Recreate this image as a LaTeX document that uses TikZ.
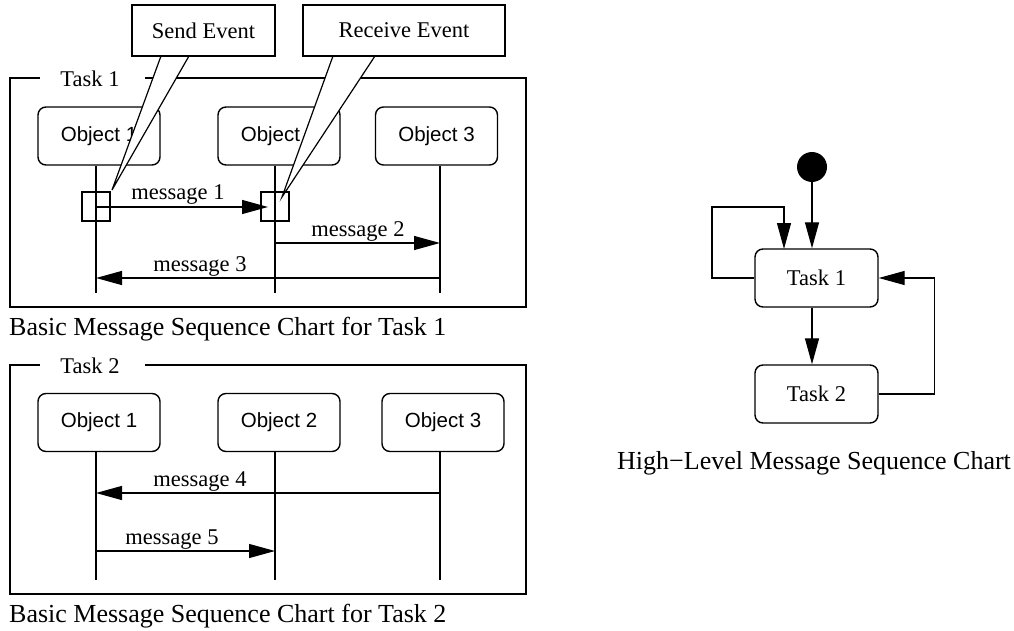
\documentclass[tikz,border=0pt]{standalone}
\usepackage{fontspec}
\setmainfont{Liberation Serif}
\newfontfamily\objfont{Liberation Sans}
\usetikzlibrary{arrows.meta}
\begin{document}
\begin{tikzpicture}[x=1pt,y=-1pt,
  thinline/.style={line width=1.2pt},
  frame/.style={line width=1.4pt},
  obj/.style={draw, line width=1.4pt, rounded corners=8pt, minimum width=122pt, minimum height=58pt, inner sep=0pt, font=\objfont\fontsize{20.5}{24}\selectfont},
  state/.style={draw, line width=1.4pt, rounded corners=8pt, minimum width=123pt, minimum height=58pt, inner sep=0pt, font=\fontsize{22.5}{27}\selectfont},
  msg/.style={line width=1.2pt, -{Triangle[length=26pt,width=14pt]}},
  lbl/.style={font=\fontsize{22.5}{27}\selectfont, anchor=base, inner sep=0pt},
  evt/.style={draw, line width=1.2pt, minimum width=28pt, minimum height=29pt, inner sep=0pt},
  callout/.style={draw, line width=1.4pt, fill=white, inner sep=0pt, font=\fontsize{22.5}{27}\selectfont},
  caption/.style={font=\fontsize{26}{30}\selectfont, inner sep=0pt, anchor=west},
  flabel/.style={font=\fontsize{22.5}{27}\selectfont, inner sep=0pt}
]
\useasboundingbox (0,0) rectangle (1014,631);

% ---------- Task 1 frame ----------
\coordinate (f1a) at (40,78);
\coordinate (f1b) at (145,78);
\draw[frame] (f1a) -- (10,78) -- (10,307) -- (526,307) -- (526,78) -- (f1b);
\node[flabel] (f1l) at (90,79) {Task 1};

\node[obj] (o11) at (99,136) {Object 1};
\node[obj] (o12) at (279,136) {Object 2};
\node[obj] (o13) at (436.5,136) {Object 3};

\coordinate (l11) at (96,293);
\coordinate (l12) at (275,293);
\coordinate (l13) at (440,293);
\draw[thinline] (l11 |- o11.south) -- (l11);
\draw[thinline] (l12 |- o12.south) -- (l12);
\draw[thinline] (l13 |- o13.south) -- (l13);

\node[evt] (se) at (96,206.5) {};
\node[evt] (re) at (275,206.5) {};

\coordinate (m1a) at (96,207);
\coordinate (m1b) at (268,207);
\coordinate (m2a) at (275,243);
\coordinate (m2b) at (440,243);
\coordinate (m3a) at (440,278);
\coordinate (m3b) at (96,278);
\draw[msg] (m1a) -- (m1b);
\draw[msg] (m2a) -- (m2b);
\draw[msg] (m3a) -- (m3b);
\node[lbl] (t1m1) at (178,200) {message 1};
\node[lbl] (t1m2) at (358,236) {message 2};
\node[lbl] (t1m3) at (200,271) {message 3};

% callouts
\coordinate (sw1) at (161,56);
\coordinate (sw2) at (112,190);
\coordinate (sw3) at (189,56);
\fill[white] (sw1) -- (sw2) -- (sw3) -- cycle;
\draw[thinline] (sw1) -- (sw2) -- (sw3);
\coordinate (rw1) at (333,56);
\coordinate (rw2) at (282,197);
\coordinate (rw3) at (375,56);
\fill[white] (rw1) -- (rw2) -- (rw3) -- cycle;
\draw[thinline] (rw1) -- (rw2) -- (rw3);
\node[callout, minimum width=143pt, minimum height=51pt] (sendev) at (203.5,30.5) {Send Event};
\node[callout, minimum width=202pt, minimum height=51pt] (recev) at (404,30.5) {Receive Event};

\node[caption] (cap1) at (9,329) {Basic Message Sequence Chart for Task 1};

% ---------- Task 2 frame ----------
\coordinate (f2a) at (40,365);
\coordinate (f2b) at (145,365);
\draw[frame] (f2a) -- (10,365) -- (10,594) -- (526,594) -- (526,365) -- (f2b);
\node[flabel] (f2l) at (90,366) {Task 2};

\node[obj] (o21) at (99,422.5) {Object 1};
\node[obj] (o22) at (279,422.5) {Object 2};
\node[obj] (o23) at (443,422.5) {Object 3};

\coordinate (l21) at (96,580);
\coordinate (l22) at (275,580);
\coordinate (l23) at (440,580);
\draw[thinline] (l21 |- o21.south) -- (l21);
\draw[thinline] (l22 |- o22.south) -- (l22);
\draw[thinline] (l23 |- o23.south) -- (l23);

\coordinate (m4a) at (440,493);
\coordinate (m4b) at (96,493);
\coordinate (m5a) at (96,551);
\coordinate (m5b) at (275,551);
\draw[msg] (m4a) -- (m4b);
\draw[msg] (m5a) -- (m5b);
\node[lbl] (t2m4) at (200,486) {message 4};
\node[lbl] (t2m5) at (172,544) {message 5};

\node[caption] (cap2) at (9,616) {Basic Message Sequence Chart for Task 2};

% ---------- High-level MSC ----------
\node[circle, fill, minimum size=30pt, inner sep=0pt] (init) at (812,167) {};
\node[state] (t1) at (816.5,278) {Task 1};
\node[state] (t2) at (816.5,394) {Task 2};
\draw[msg] (init.south) -- (init.south |- t1.north);
\draw[msg] (t1.south -| init) -- (t2.north -| init);
\coordinate (lp) at (712,207);
\coordinate (t1in) at (784,249);
\draw[msg] (t1.west) -| (lp) -| (t1in);
\draw[msg] (t2.east) -- ++(56,0) |- (t1.east);

\node[caption] (cap3) at (617,463) {High−Level Message Sequence Chart};
\end{tikzpicture}
\end{document}
